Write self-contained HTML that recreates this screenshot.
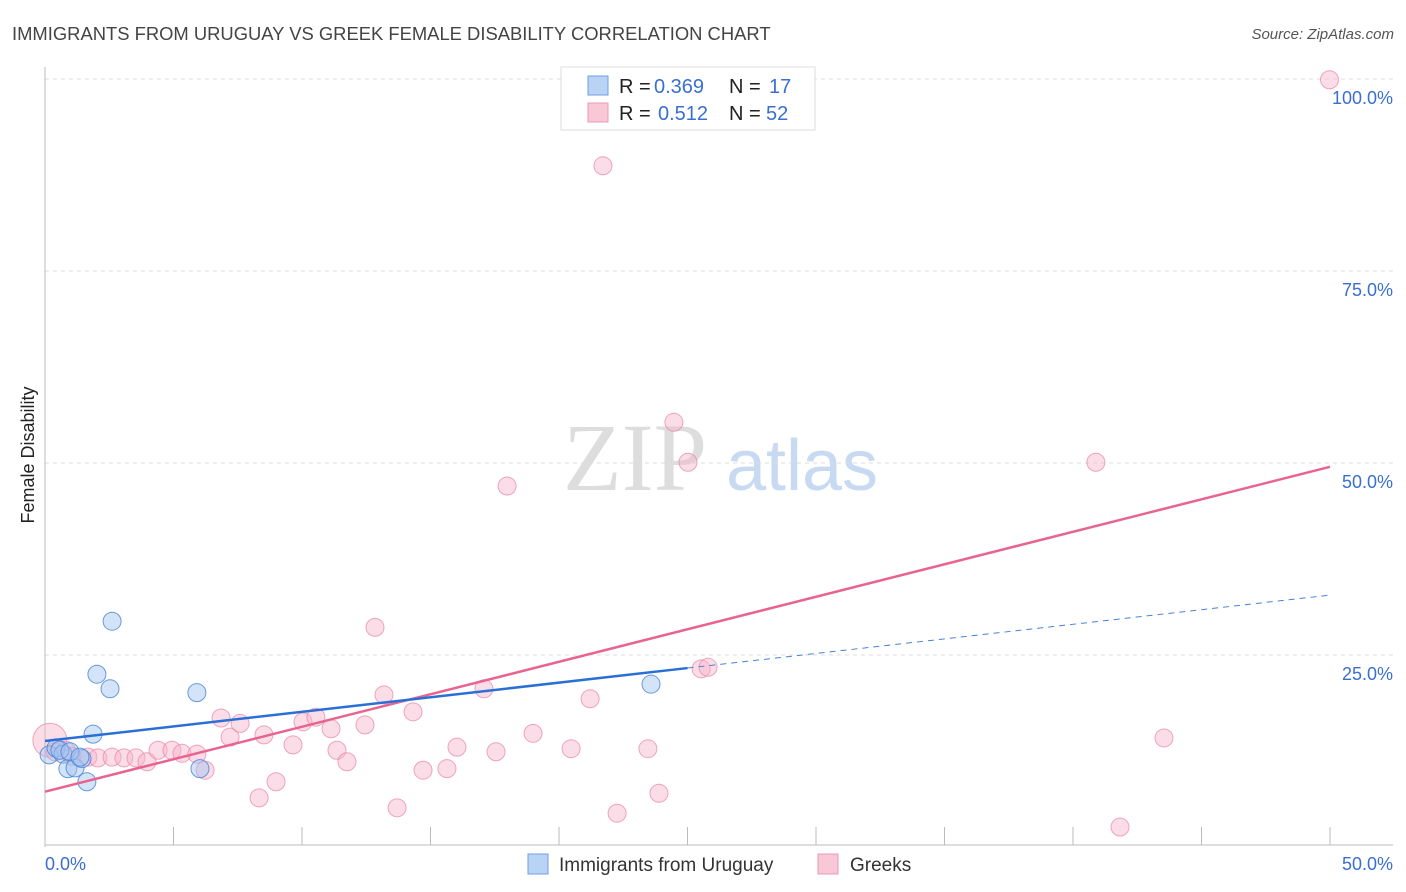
<!DOCTYPE html>
<html><head><meta charset="utf-8"><style>
body{margin:0;background:#fff;font-family:"Liberation Sans",sans-serif;}
svg{display:block}
</style></head><body>
<svg id="chart" width="1406" height="892">
<text x="12" y="40" font-size="18.4" fill="#444">IMMIGRANTS FROM URUGUAY VS GREEK FEMALE DISABILITY CORRELATION CHART</text>
<text x="1394" y="39" font-size="15" fill="#555" font-style="italic" text-anchor="end">Source: ZipAtlas.com</text>
<g>
<text x="635" y="490" font-size="96" fill="#ddd" font-family="Liberation Serif,serif" text-anchor="middle">ZIP</text>
<text x="802" y="490" font-size="72" fill="#c8daf2" text-anchor="middle">atlas</text>
</g>
<g id="grid"></g>
<g id="axes"></g>
<g id="marks"></g>
<text transform="translate(34,455) rotate(-90)" font-size="18" fill="#222" text-anchor="middle">Female Disability</text>
<g>
<rect x="561" y="67" width="254" height="63" fill="#fff" stroke="#ddd"/>
<rect x="588" y="76" width="20" height="19" fill="#b9d3f5" stroke="#6e9fe0"/>
<rect x="588" y="103" width="20" height="19" fill="#f9c8d7" stroke="#ec98b3"/>
<text y="93" font-size="20"><tspan x="619" fill="#222">R = </tspan><tspan x="654" fill="#3a6fd0">0.369</tspan><tspan x="729" fill="#222">N = </tspan><tspan x="769" fill="#3a6fd0">17</tspan></text>
<text y="120" font-size="20"><tspan x="619" fill="#222">R = </tspan><tspan x="658" fill="#3a6fd0">0.512</tspan><tspan x="729" fill="#222">N = </tspan><tspan x="766" fill="#3a6fd0">52</tspan></text>
</g>
<g>
<rect x="528" y="854" width="20" height="20" fill="#b9d3f5" stroke="#6e9fe0"/>
<text x="559" y="871" font-size="19" fill="#333">Immigrants from Uruguay</text>
<rect x="818" y="854" width="20" height="20" fill="#f9c8d7" stroke="#ec98b3"/>
<text x="850" y="871" font-size="19" fill="#333">Greeks</text>
</g>
</svg>
<script>
const yTicks=[25,50,75,100];
const yTickLabels=["25.0%","50.0%","75.0%","100.0%"];
const xTickLabels=["0.0%","50.0%"];
const blueX=[0.16,0.43,0.70,0.89,1.17,1.44,1.63,1.87,2.02,2.53,2.61,5.91,6.03,23.58,0.58,0.97,1.36];
const blueY=[12.0,12.9,12.1,10.2,10.3,11.5,8.5,14.7,22.5,20.6,29.4,20.1,10.2,21.2,12.6,12.4,11.7];
const pinkX=[0.19,0.39,0.82,1.05,1.67,2.06,2.61,3.07,3.54,3.97,4.40,4.94,5.33,5.91,6.23,6.85,7.20,7.59,8.33,8.52,8.99,9.65,10.04,10.54,11.13,11.36,11.75,12.45,12.84,13.19,13.70,14.32,14.71,15.64,16.03,17.08,17.55,17.98,18.99,20.47,21.21,21.71,22.26,23.46,23.89,24.47,25.02,25.53,25.80,40.89,41.83,43.54,49.98];
const pinkY=[13.9,12.4,12.6,11.8,11.7,11.6,11.7,11.6,11.6,11.1,12.6,12.6,12.2,12.1,10.0,16.8,14.3,16.1,6.4,14.6,8.5,13.3,16.3,16.9,15.4,12.6,11.1,15.9,28.6,19.8,5.1,17.6,10.0,10.2,13.0,20.6,12.4,47.0,14.8,12.8,19.3,88.7,4.4,12.8,7.0,55.3,50.1,23.2,23.4,50.1,2.6,14.2,99.9];
const blueTrend=[13.8,32.8];
const pinkTrend=[7.2,49.5];
const blueSolidEnd=25.0;
const NS="http://www.w3.org/2000/svg";
const X0=45,X1=1330,Y0=847,Y100=79;
const sx=v=>X0+(X1-X0)*v/50;
const sy=v=>Y0-(Y0-Y100)*v/100;
function mk(tag,attrs,parent){const e=document.createElementNS(NS,tag);for(const k in attrs)e.setAttribute(k,attrs[k]);parent.appendChild(e);return e;}
const grid=document.getElementById('grid'),axes=document.getElementById('axes'),marks=document.getElementById('marks');
yTicks.forEach((t,i)=>{
 const l=mk('line',{x1:X0,x2:1393,y1:sy(t),y2:sy(t),stroke:'#ddd','stroke-dasharray':'4,4'},grid);
 
 
 const tx=mk('text',{x:1393,y:sy(t)+25,'font-size':18,fill:'#3a6fd0','text-anchor':'end'},axes);
 tx.textContent=yTickLabels[i];
 
 
});
const ax=mk('line',{x1:X0,x2:X0,y1:67,y2:Y0,stroke:'#bbb'},axes);


const bx=mk('line',{x1:X0,x2:1393,y1:Y0-2,y2:Y0-2,stroke:'#bbb'},axes);


for(let i=1;i<=10;i++){
 const tk=mk('line',{x1:sx(i*5),x2:sx(i*5),y1:827,y2:845,stroke:'#bbb'},axes);
 
 
}
const xl0=mk('text',{x:45,y:870,'font-size':18,fill:'#3a6fd0'},axes);xl0.textContent=xTickLabels[0];


const xl1=mk('text',{x:1393,y:870,'font-size':18,fill:'#3a6fd0','text-anchor':'end'},axes);xl1.textContent=xTickLabels[1];


pinkX.forEach((x,i)=>{
 const c=mk('circle',{cx:sx(x),cy:sy(pinkY[i]),r:i===0?17:9,fill:'rgba(246,180,202,0.45)',stroke:'rgba(232,130,165,0.7)','stroke-width':1},marks);
 
 
});
blueX.forEach((x,i)=>{
 const c=mk('circle',{cx:sx(x),cy:sy(blueY[i]),r:9,fill:'rgba(160,196,240,0.45)',stroke:'rgba(70,130,215,0.8)','stroke-width':1},marks);
 
 
});
const bAt=x=>blueTrend[0]+(blueTrend[1]-blueTrend[0])*x/50;
const pl=mk('line',{x1:sx(0),y1:sy(pinkTrend[0]),x2:sx(50),y2:sy(pinkTrend[1]),stroke:'#e8648f','stroke-width':2.5},marks);


const bl=mk('line',{x1:sx(0),y1:sy(bAt(0)),x2:sx(blueSolidEnd),y2:sy(bAt(blueSolidEnd)),stroke:'#2a6fd6','stroke-width':2.5},marks);


const bd=mk('line',{x1:sx(blueSolidEnd),y1:sy(bAt(blueSolidEnd)),x2:sx(50),y2:sy(bAt(50)),stroke:'#4a80d8','stroke-width':1,'stroke-dasharray':'6,5'},marks);


</script>
</body></html>
